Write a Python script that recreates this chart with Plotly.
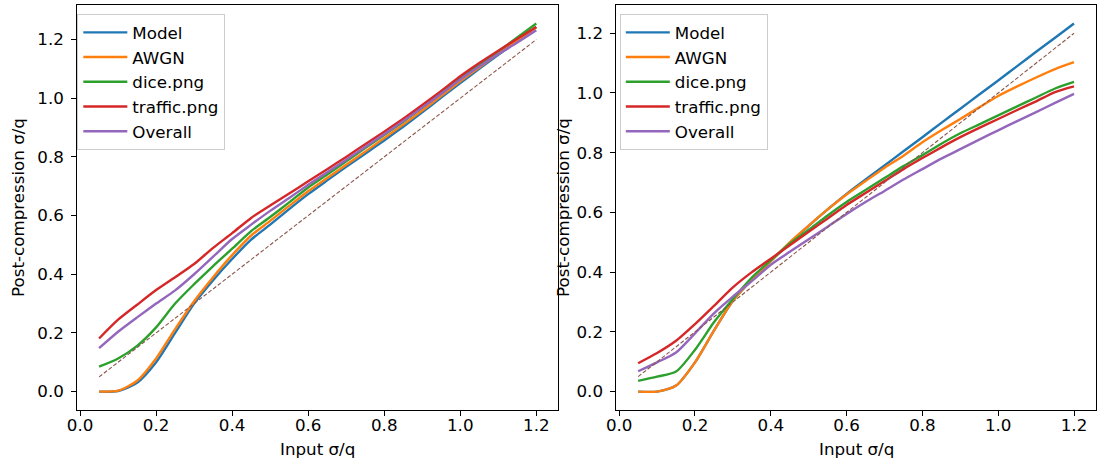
import plotly.graph_objects as go

# Input noise level (sigma / q)
x_in = [0.05, 0.10, 0.15, 0.20, 0.25, 0.30, 0.35, 0.40, 0.45, 0.50, 0.55, 0.60,
        0.65, 0.70, 0.75, 0.80, 0.85, 0.90, 0.95, 1.00, 1.05, 1.10, 1.15, 1.20]

series_names = ["Model", "AWGN", "dice.png", "traffic.png", "Overall"]
series_colors = ["#1f77b4", "#ff7f0e", "#2ca02c", "#d62728", "#9467bd"]
ref_color = "#8c564b"

# Left panel: post-compression sigma / q
left_model = [0.0, 0.002, 0.03, 0.10, 0.20, 0.30, 0.38, 0.452, 0.518, 0.569, 0.622, 0.673,
              0.72, 0.766, 0.811, 0.856, 0.903, 0.952, 1.002, 1.052, 1.10, 1.148, 1.195, 1.243]
left_awgn = [0.0, 0.003, 0.037, 0.113, 0.213, 0.308, 0.39, 0.465, 0.532, 0.582, 0.633, 0.683,
             0.728, 0.773, 0.818, 0.864, 0.91, 0.958, 1.008, 1.058, 1.105, 1.152, 1.198, 1.242]
left_dice = [0.085, 0.113, 0.156, 0.219, 0.30, 0.366, 0.428, 0.487, 0.547, 0.595, 0.645, 0.696,
             0.74, 0.785, 0.83, 0.875, 0.92, 0.968, 1.018, 1.069, 1.115, 1.16, 1.207, 1.255]
left_traffic = [0.181, 0.245, 0.296, 0.346, 0.39, 0.435, 0.49, 0.54, 0.592, 0.634, 0.675, 0.717,
                0.758, 0.80, 0.843, 0.886, 0.93, 0.977, 1.025, 1.075, 1.12, 1.162, 1.203, 1.243]
left_overall = [0.148, 0.204, 0.253, 0.30, 0.345, 0.40, 0.46, 0.52, 0.569, 0.616, 0.66, 0.705,
                0.748, 0.79, 0.834, 0.877, 0.922, 0.968, 1.015, 1.064, 1.108, 1.15, 1.19, 1.232]

# Right panel: post-compression sigma / q
right_model = [0.0, 0.0, 0.02, 0.098, 0.204, 0.304, 0.375, 0.437, 0.498, 0.555, 0.61, 0.662,
               0.71, 0.757, 0.805, 0.852, 0.90, 0.947, 0.995, 1.042, 1.09, 1.138, 1.185, 1.233]
right_awgn = [0.0, 0.0, 0.02, 0.098, 0.204, 0.304, 0.375, 0.437, 0.50, 0.556, 0.61, 0.66,
              0.705, 0.75, 0.79, 0.835, 0.875, 0.913, 0.952, 0.99, 1.022, 1.052, 1.08, 1.103]
right_dice = [0.036, 0.05, 0.067, 0.14, 0.232, 0.31, 0.382, 0.44, 0.495, 0.542, 0.59, 0.635,
              0.675, 0.715, 0.755, 0.792, 0.83, 0.865, 0.895, 0.925, 0.955, 0.985, 1.015, 1.037]
right_traffic = [0.095, 0.129, 0.17, 0.226, 0.287, 0.349, 0.40, 0.445, 0.49, 0.535, 0.58, 0.625,
                 0.665, 0.705, 0.745, 0.782, 0.818, 0.852, 0.883, 0.913, 0.943, 0.972, 1.003, 1.022]
right_overall = [0.068, 0.098, 0.131, 0.195, 0.262, 0.318, 0.37, 0.425, 0.468, 0.51, 0.552, 0.595,
                 0.635, 0.672, 0.71, 0.745, 0.78, 0.812, 0.844, 0.875, 0.906, 0.936, 0.967, 0.997]

x_ticks = [0.0, 0.2, 0.4, 0.6, 0.8, 1.0, 1.2]
y_ticks = [0.0, 0.2, 0.4, 0.6, 0.8, 1.0, 1.2]

x_title = "Input σ/q"
y_title = "Post-compression σ/q"

FONT = "DejaVu Sans"
FS = 16.7

W, H = 1097, 461
LEFT_X = [67.9 / W, 553.7 / W]
RIGHT_X = [612.5 / W, 1096.8 / W]
PLOT_Y = [1 - 410 / H, 1 - 5 / H]

fig = go.Figure()

panels = [
    ("x", "y", "legend", [left_model, left_awgn, left_dice, left_traffic, left_overall]),
    ("x2", "y2", "legend2", [right_model, right_awgn, right_dice, right_traffic, right_overall]),
]
for xa, ya, leg, data in panels:
    for name, color, ys in zip(series_names, series_colors, data):
        fig.add_trace(go.Scatter(
            x=x_in, y=ys, mode="lines", name=name,
            line=dict(color=color, width=2.4, shape="spline", smoothing=0.7),
            xaxis=xa, yaxis=ya, legend=leg,
        ))
    # identity reference line y = x
    fig.add_trace(go.Scatter(
        x=x_in, y=x_in, mode="lines", showlegend=False,
        line=dict(color=ref_color, width=1.1, dash="4px,2px"),
        xaxis=xa, yaxis=ya,
    ))

axis_common = dict(
    showline=True, mirror=True, linecolor="black", linewidth=1,
    ticks="outside", ticklen=5, tickwidth=1, tickcolor="black",
    showgrid=False, zeroline=False,
    tickfont=dict(family=FONT, size=FS, color="black"),
)
x_common = dict(axis_common, range=[-0.0075, 1.2575], tickvals=x_ticks,
                ticktext=[f"{v:.1f}" for v in x_ticks], ticklabelstandoff=-5)
y_common = dict(axis_common, tickvals=y_ticks,
                ticktext=[f"{v:.1f}" for v in y_ticks], ticklabelstandoff=4)

legend_common = dict(yanchor="top", xanchor="left", y=1 - 14 / H,
                     bgcolor="rgba(255,255,255,0.8)", bordercolor="#cccccc", borderwidth=1,
                     itemwidth=44, font=dict(family=FONT, size=FS))

fig.update_layout(
    width=W, height=H,
    margin=dict(l=0, r=0, t=0, b=0),
    paper_bgcolor="white", plot_bgcolor="white",
    font=dict(family=FONT, size=FS, color="black"),
    xaxis=dict(x_common, domain=LEFT_X, anchor="y"),
    yaxis=dict(y_common, domain=PLOT_Y, range=[-0.0628, 1.3178], anchor="x",
               title=dict(text=y_title, font=dict(family=FONT, size=FS), standoff=8)),
    xaxis2=dict(x_common, domain=RIGHT_X, anchor="y2"),
    yaxis2=dict(y_common, domain=PLOT_Y, range=[-0.0617, 1.2947], anchor="x2",
                title=dict(text=y_title, font=dict(family=FONT, size=FS), standoff=2)),
    legend=dict(legend_common, x=68 / W),
    legend2=dict(legend_common, x=616 / W),
)

# x-axis titles
for dom in (LEFT_X, RIGHT_X):
    fig.add_annotation(text=x_title, xref="paper", yref="paper",
                       x=(dom[0] + dom[1]) / 2, y=1 - 449 / H,
                       xanchor="center", yanchor="middle", showarrow=False,
                       font=dict(family=FONT, size=FS, color="black"))

fig.write_html("out.html")
